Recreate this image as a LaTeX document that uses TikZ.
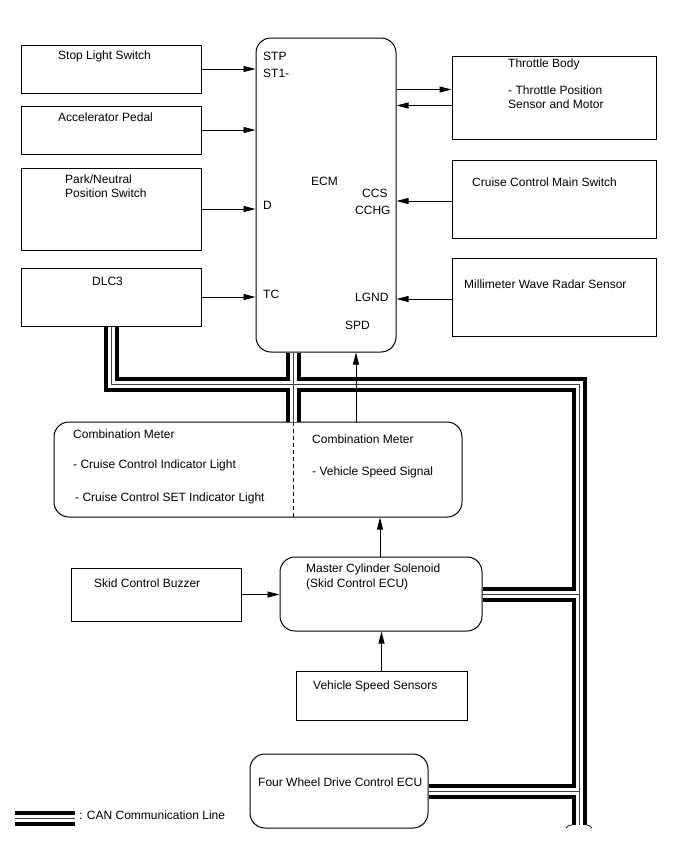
\documentclass[tikz,border=0pt]{standalone}
\usepackage{fontspec}
\setmainfont{Liberation Sans}
\usetikzlibrary{arrows.meta,calc}
\begin{document}
\begin{tikzpicture}[x=1pt,y=-1pt,
  box/.style={draw,line width=1pt,inner sep=0pt,rectangle},
  rbox/.style={box,rounded corners=15pt},
  txt/.style={anchor=base west,inner sep=0pt,font=\fontsize{12}{14}\selectfont},
  arr/.style={line width=0.9pt,-{Triangle[length=12pt,width=6pt]}},
  canA/.style={line width=15pt,black,line join=miter},
  canB/.style={line width=7pt,white,line join=miter},
  canC/.style={line width=0.8pt,black!75,line join=miter},
]
\useasboundingbox (0,0) rectangle (688,852);

% ---------- boxes ----------
\node[rbox,minimum width=140pt,minimum height=314pt] (ecm) at (326,195) {};
\node[box,minimum width=180pt,minimum height=48pt] (sls) at (111,69) {};
\node[box,minimum width=180pt,minimum height=48pt] (acc) at (111,130) {};
\node[box,minimum width=180pt,minimum height=82pt] (pns) at (111,209) {};
\node[box,minimum width=180pt,minimum height=58pt] (dlc) at (111,297) {};
\node[box,minimum width=204pt,minimum height=83pt] (thr) at (554,97.5) {};
\node[box,minimum width=204pt,minimum height=78pt] (ccm) at (554,199) {};
\node[box,minimum width=204pt,minimum height=78pt] (mwr) at (554,297) {};
\node[rbox,minimum width=408pt,minimum height=95pt] (cm) at (258,469.5) {};
\node[rbox,minimum width=202pt,minimum height=74pt] (ms) at (381,594) {};
\node[box,minimum width=170pt,minimum height=53pt] (buz) at (156,594.5) {};
\node[box,minimum width=171pt,minimum height=49pt] (vss) at (381.5,695.5) {};
\node[rbox,minimum width=178pt,minimum height=74pt] (fwd) at (339,791) {};

% ---------- CAN bus ----------
\coordinate (busy) at (0,384);
\coordinate (busx) at (579,0);
\coordinate (busend) at (0,825);
\coordinate (ecmbus) at ($(ecm.south)+(-33,0)$);
\coordinate (lgA) at (15,818);
\coordinate (lgB) at (75,818);
\newcommand\canpaths[1]{%
  \draw[#1] (dlc.south) -- (dlc.south |- busy) -- (busx |- busy) -- (busx |- busend);
  \draw[#1] (ecmbus) -- (ecmbus |- cm.north);
  \draw[#1] (ms.east) -- (ms.east -| busx);
  \draw[#1] (fwd.east) -- (fwd.east -| busx);
  \draw[#1] (lgA) -- (lgB);}
\canpaths{canA}
\canpaths{canB}
\canpaths{canC}
% break mark at the bus end
\draw[line width=0.7pt] ($(busx |- busend)+(-13,3)$) .. controls ($(busx |- busend)+(-10,0)$) .. ($(busx |- busend)+(-7,0)$);
\draw[line width=0.7pt] ($(busx |- busend)+(7,0)$) .. controls ($(busx |- busend)+(10,0)$) .. ($(busx |- busend)+(13,3)$);

% dashed divider in combination meter
\draw[line width=0.9pt,dash pattern=on 4pt off 3pt] (ecmbus |- cm.north) -- (ecmbus |- cm.south);

% ---------- arrows ----------
\draw[arr] (sls.east) -- (sls.east -| ecm.west);
\draw[arr] (acc.east) -- (acc.east -| ecm.west);
\draw[arr] (pns.east) -- (pns.east -| ecm.west);
\draw[arr] (dlc.east) -- (dlc.east -| ecm.west);
\draw[arr] ([yshift=8pt]thr.west -| ecm.east) -- ([yshift=8pt]thr.west);
\draw[arr] ([yshift=-8pt]thr.west) -- ([yshift=-8pt]thr.west -| ecm.east);
\draw[arr] ([yshift=-2pt]ccm.west) -- ([yshift=-2pt]ccm.west -| ecm.east);
\draw[arr] ([yshift=-2pt]mwr.west) -- ([yshift=-2pt]mwr.west -| ecm.east);
\draw[arr] ([xshift=30pt]ecm.south |- cm.north) -- ([xshift=30pt]ecm.south);
\draw[arr] ([xshift=-1pt]ms.north) -- ([xshift=-1pt]ms.north |- cm.south);
\draw[arr] (buz.east) -- (buz.east -| ms.west);
\draw[arr] (vss.north) -- (vss.north |- ms.south);

% ---------- texts ----------
\node[txt] (t1) at (58,59.5) {Stop Light Switch};
\node[txt] (t2) at (58,121.5) {Accelerator Pedal};
\node[txt] (t3a) at (65,183.5) {Park/Neutral};
\node[txt] (t3b) at (65,197.5) {Position Switch};
\node[txt] (t4) at (92,285.5) {DLC3};
\node[txt] (e1) at (263,60.5) {STP};
\node[txt] (e2) at (263,77.5) {ST1-};
\node[txt] (e3) at (311,185.5) {ECM};
\node[txt] (e4) at (362,197.5) {CCS};
\node[txt] (e5) at (355,214.5) {CCHG};
\node[txt] (e6) at (263,209.5) {D};
\node[txt] (e7) at (263,298.5) {TC};
\node[txt] (e8) at (355,301.5) {LGND};
\node[txt] (e9) at (345,329.5) {SPD};
\node[txt] (r1) at (508,67.5) {Throttle Body};
\node[txt] (r2) at (508,94.5) {- Throttle Position};
\node[txt] (r3) at (508,108.5) {Sensor and Motor};
\node[txt] (r4) at (472,186.5) {Cruise Control Main Switch};
\node[txt] (r5) at (464,288.5) {Millimeter Wave Radar Sensor};
\node[txt] (c1) at (73,438.5) {Combination Meter};
\node[txt] (c2) at (73,468.5) {- Cruise Control Indicator Light};
\node[txt] (c3) at (75,501.5) {- Cruise Control SET Indicator Light};
\node[txt] (c4) at (312,443.5) {Combination Meter};
\node[txt] (c5) at (312,475.5) {- Vehicle Speed Signal};
\node[txt] (m1) at (306,572.5) {Master Cylinder Solenoid};
\node[txt] (m2) at (306,587.5) {(Skid Control ECU)};
\node[txt] (b1) at (94,587.5) {Skid Control Buzzer};
\node[txt] (v1) at (313,689.5) {Vehicle Speed Sensors};
\node[txt] (f1) at (258,786) {Four Wheel Drive Control ECU};
\node[txt] (l1) at (79,819.5) {: CAN Communication Line};
\end{tikzpicture}
\end{document}
